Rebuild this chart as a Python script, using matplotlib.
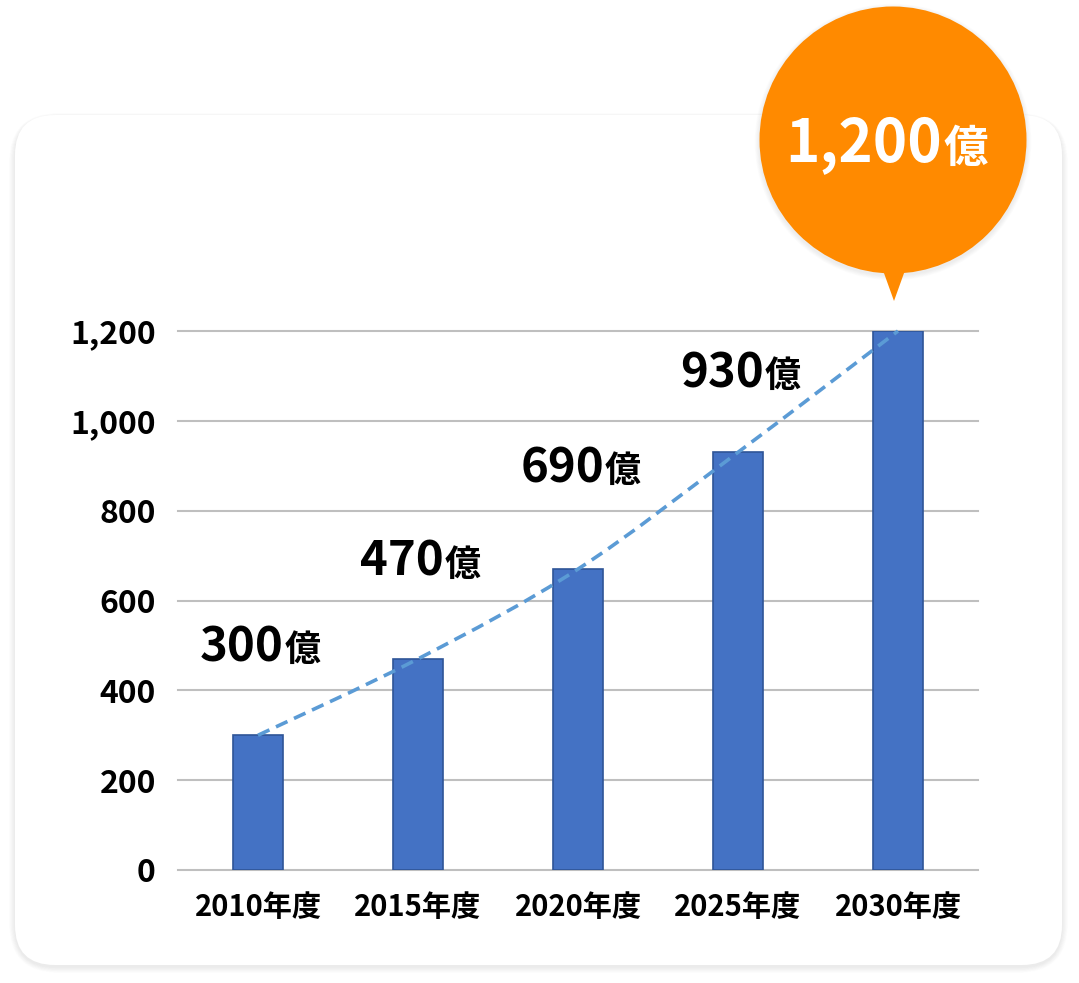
import matplotlib
matplotlib.use("Agg")
import matplotlib.pyplot as plt
from matplotlib.patches import FancyBboxPatch, Circle, Polygon, PathPatch
from matplotlib.path import Path
from matplotlib.ticker import FuncFormatter

plt.rcParams["font.family"] = ["Noto Sans CJK JP", "DejaVu Sans"]

# data
YEARS = ["2010年度", "2015年度", "2020年度", "2025年度", "2030年度"]
VALUES = [300, 470, 670, 930, 1200]
LABEL_VALUES = [300, 470, 690, 930]   # printed labels (2020 says 690)
Y_TICKS = [0, 200, 400, 600, 800, 1000, 1200]
UNIT = "億"

BAR_FILL = "#4472c4"
BAR_EDGE = "#2f5597"
TREND = "#5b9bd5"
GRID = "#bfbfbf"
ORANGE = "#ff8a00"
INK = "#000000"

W, H = 1079, 983
LABEL_LIFT_PX = [74, 83, 87, 65]  # baseline height above bar top

fig = plt.figure(figsize=(W / 100, H / 100), dpi=100)
fig.set_facecolor("white")

# background layer in pixel coordinates: card + balloon
bg = fig.add_axes([0, 0, 1, 1], zorder=0)
bg.set_xlim(0, W)
bg.set_ylim(H, 0)
bg.axis("off")

card = (15, 115, 1047, 850)  # x, y, w, h
for i in range(10, 0, -1):
    bg.add_patch(FancyBboxPatch((card[0] - i * 0.6, card[1] - i * 0.4 + 2),
                                card[2] + i * 1.2, card[3] + i * 1.0,
                                boxstyle="round,pad=0,rounding_size=%d" % (40 + i),
                                fc="#000000", ec="none", alpha=0.006))
bg.add_patch(FancyBboxPatch(card[:2], card[2], card[3],
                            boxstyle="round,pad=0,rounding_size=40",
                            fc="white", ec="none"))

cx, cy, r = 893, 140, 133.5
for i in range(6, 0, -1):
    bg.add_patch(Circle((cx, cy + 2), r + i * 0.8, fc="#000000", ec="none", alpha=0.012))
bg.add_patch(Circle((cx, cy), r, fc=ORANGE, ec="none"))
bg.add_patch(Polygon([(880, 262), (908, 262), (894, 301)], closed=True, fc=ORANGE, ec="none"))
bg.text(942, 162, f"{VALUES[-1]:,}", color="white", fontsize=42, fontweight="bold",
        ha="right", va="baseline")
bg.text(943, 162, UNIT, color="white", fontsize=32, fontweight="bold",
        ha="left", va="baseline")

# main chart
ax = fig.add_axes([178 / W, 1 - 870 / H, 800 / W, (870 - 331) / H], zorder=1)
ax.patch.set_alpha(0)
x = list(range(len(YEARS)))
ax.bar(x, VALUES, width=0.31, color=BAR_FILL, edgecolor=BAR_EDGE, linewidth=1.2, zorder=2)

# smoothed dashed trend through the bar tops (Catmull-Rom as cubic Beziers)
pts = list(zip(x, VALUES))
verts = [pts[0]]
codes = [Path.MOVETO]
for i in range(len(pts) - 1):
    p0 = pts[max(i - 1, 0)]
    p1 = pts[i]
    p2 = pts[i + 1]
    p3 = pts[min(i + 2, len(pts) - 1)]
    c1 = (p1[0] + (p2[0] - p0[0]) / 6, p1[1] + (p2[1] - p0[1]) / 6)
    c2 = (p2[0] - (p3[0] - p1[0]) / 6, p2[1] - (p3[1] - p1[1]) / 6)
    verts += [c1, c2, p2]
    codes += [Path.CURVE4] * 3
ax.add_patch(PathPatch(Path(verts, codes), fill=False, ec=TREND, lw=2.6,
                       linestyle=(0, (3.5, 2.0)), zorder=3, clip_on=False))

for i, lab in enumerate(LABEL_VALUES):
    ax.annotate(str(lab), (x[i], VALUES[i]), xytext=(26, LABEL_LIFT_PX[i]),
                textcoords="offset pixels", ha="right", va="baseline",
                fontsize=34, fontweight="bold", color=INK, zorder=4)
    ax.annotate(UNIT, (x[i], VALUES[i]), xytext=(27, LABEL_LIFT_PX[i]),
                textcoords="offset pixels", ha="left", va="baseline",
                fontsize=26, fontweight="bold", color=INK, zorder=4)

ax.set_xlim(-0.5, len(YEARS) - 0.5)
ax.set_ylim(0, 1200)
ax.set_yticks(Y_TICKS)
ax.yaxis.set_major_formatter(FuncFormatter(lambda v, _: f"{int(v):,}"))
ax.set_xticks(x)
ax.set_xticklabels(YEARS)
ax.yaxis.grid(True, color=GRID, linewidth=1.5, zorder=0)
ax.set_axisbelow(True)
for s in ax.spines.values():
    s.set_visible(False)
ax.tick_params(axis="y", length=0, pad=16, labelsize=23, labelcolor=INK)
ax.tick_params(axis="x", length=0, pad=16, labelsize=21, labelcolor=INK)
for t in ax.get_xticklabels() + ax.get_yticklabels():
    t.set_fontweight("bold")
for gl in ax.get_ygridlines():
    gl.set_clip_on(False)

fig.savefig("out.png", dpi=100, facecolor="white")
